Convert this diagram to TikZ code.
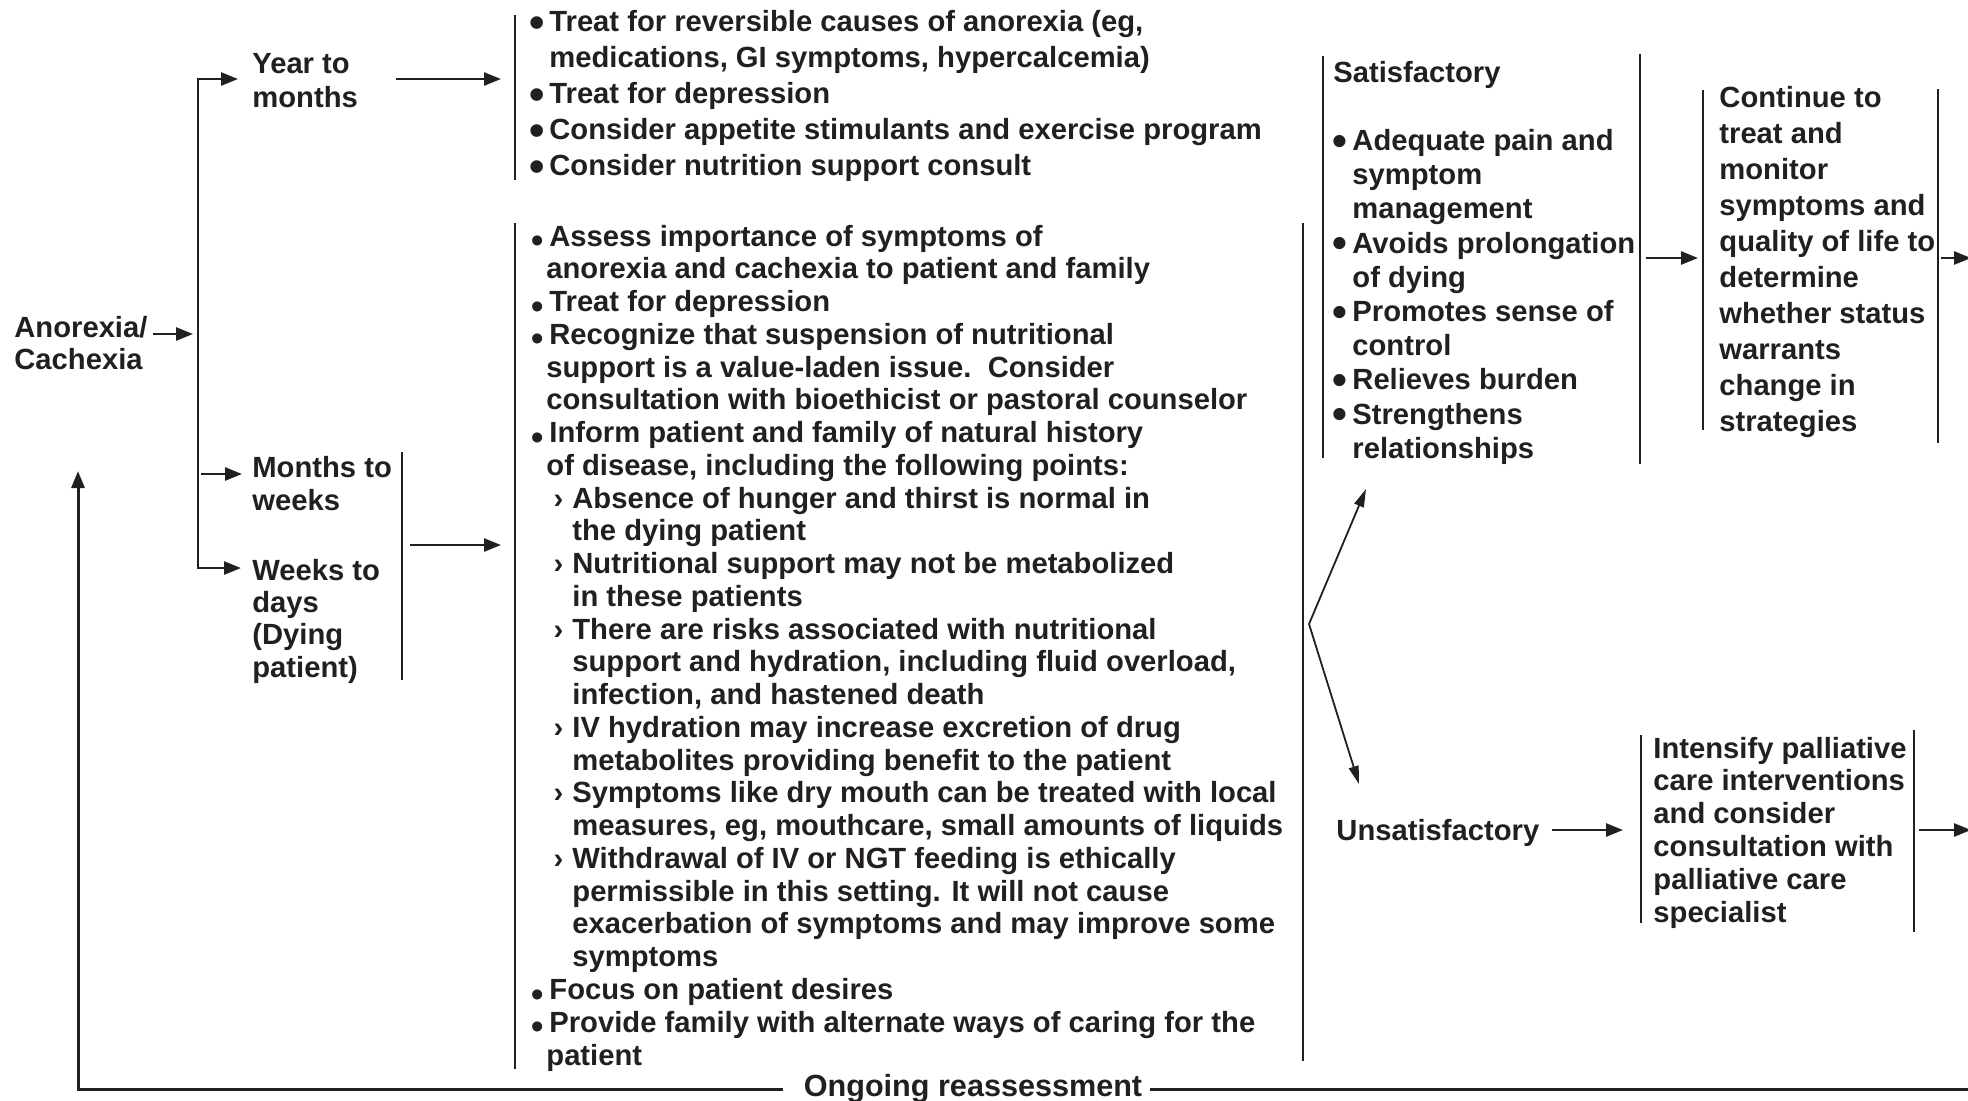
\documentclass[tikz,border=0pt]{standalone}
\usepackage{graphicx}
\usepackage{fontspec}
\setmainfont{Liberation Sans}
\usetikzlibrary{arrows.meta}
\definecolor{ink}{RGB}{35,31,32}

% font size / line spacing, always bold
\newcommand\fsz[2]{\fontsize{#1}{#2}\selectfont\bfseries}
% stacked left-aligned lines, baseline on the first line
\newcommand\rows[1]{\begin{tabular}[t]{@{}l@{}}#1\end{tabular}}
% bullets hanging to the left of the text start
\newcommand\bulA{\llap{\raisebox{-3pt}{\scalebox{1.5}{•}}\hspace{2.5pt}}}
\newcommand\bulB{\llap{\raisebox{-3.3pt}{\scalebox{1.2}{•}}\hspace{2.7pt}}}
\newcommand\bulC{\llap{\raisebox{-2.3pt}{\scalebox{1.45}{•}}\hspace{2.4pt}}}
\newcommand\cnt{\hspace*{-1.5pt}}
\newcommand\subb{\hspace*{11.5pt}\llap{›\hspace{4.5pt}}}
\newcommand\subc{\hspace*{11.5pt}}

\begin{document}
\begin{tikzpicture}[x=0.5pt,y=-0.5pt,color=ink,
  txt/.style={inner sep=0pt, anchor=base west},
  bar/.style={line width=1.35pt},
  arr/.style={line width=1.3pt, -{Triangle[length=8.5pt,width=6.5pt]}},
  arrs/.style={line width=1.3pt, {Triangle[length=8.5pt,width=6.5pt]}-{Triangle[length=8.5pt,width=6.5pt]}},
  diag/.style={line width=0.9pt, {Triangle[length=9pt,width=5pt]}-{Triangle[length=9pt,width=5pt]}}]
\useasboundingbox (0,0) rectangle (1968,1100);
\clip (0,0) rectangle (1968,1100);

% ---------- text blocks ----------
\node[txt, font={\fsz{14.6}{16}}] (anorexia) at (14,337) {\rows{Anorexia/\\Cachexia}};
\node[txt, font={\fsz{14.6}{17}}] (yearto) at (252,73) {\rows{Year to\\months}};
\node[txt, font={\fsz{14.6}{16.5}}] (monthsto) at (252,477) {\rows{Months to\\weeks}};
\node[txt, font={\fsz{14.6}{16.2}}] (weeksto) at (252,580) {\rows{Weeks to\\days\\(Dying\\patient)}};

\node[txt, font={\fsz{14.6}{18}}] (toplist) at (549,31) {\rows{%
\bulA Treat for reversible causes of anorexia (eg,\\
medications, GI symptoms, hypercalcemia)\\
\bulA Treat for depression\\
\bulA Consider appetite stimulants and exercise program\\
\bulA Consider nutrition support consult}};

\node[txt, font={\fsz{14.6}{16.38}}] (lowlist) at (549,246) {\rows{%
\bulB Assess importance of symptoms of\\
\cnt anorexia and cachexia to patient and family\\
\bulB Treat for depression\\
\bulB Recognize that suspension of nutritional\\
\cnt support is a value-laden issue.\ \ Consider\\
\cnt consultation with bioethicist or pastoral counselor\\
\bulB Inform patient and family of natural history\\
\cnt of disease, including the following points:\\
\subb Absence of hunger and thirst is normal in\\
\subc the dying patient\\
\subb Nutritional support may not be metabolized\\
\subc in these patients\\
\subb There are risks associated with nutritional\\
\subc support and hydration, including fluid overload,\\
\subc infection, and hastened death\\
\subb IV hydration may increase excretion of drug\\
\subc metabolites providing benefit to the patient\\
\subb Symptoms like dry mouth can be treated with local\\
\subc measures, eg, mouthcare, small amounts of liquids\\
\subb Withdrawal of IV or NGT feeding is ethically\\
\subc permissible in this setting. It will not cause\\
\subc exacerbation of symptoms and may improve some\\
\subc symptoms\\
\bulB Focus on patient desires\\
\bulB Provide family with alternate ways of caring for the\\
\cnt patient}};

\node[txt, font={\fsz{14.6}{17.1}}] (satis) at (1352,82) {\rows{%
\hspace*{-9.5pt}Satisfactory\\
\\
\bulC Adequate pain and\\
symptom\\
management\\
\bulC Avoids prolongation\\
of dying\\
\bulC Promotes sense of\\
control\\
\bulC Relieves burden\\
\bulC Strengthens\\
relationships}};

\node[txt, font={\fsz{14.6}{18}}] (contin) at (1719,107) {\rows{%
Continue to\\treat and\\monitor\\symptoms and\\quality of life to\\determine\\whether status\\warrants\\change in\\strategies}};

\node[txt, font={\fsz{14.6}{17}}] (unsat) at (1336,840) {Unsatisfactory};

\node[txt, font={\fsz{14.6}{16.4}}] (intens) at (1653,758) {\rows{%
Intensify palliative\\care interventions\\and consider\\consultation with\\palliative care\\specialist}};

\node[inner sep=0pt, font={\fsz{15.3}{18}}] (ongoing) at (973,1089) {Ongoing reassessment};

% ---------- bracket bars ----------
\draw[bar] (515,15) -- (515,180);
\draw[bar] (515,223) -- (515,1069);
\draw[bar] (402,452) -- (402,680);
\draw[bar] (1303,223) -- (1303,1061);
\draw[bar] (1323,56) -- (1323,458);
\draw[bar] (1640,54) -- (1640,464);
\draw[bar] (1703,90) -- (1703,430);
\draw[bar] (1938,89) -- (1938,443);
\draw[bar] (1641,735) -- (1641,923);
\draw[bar] (1914,730) -- (1914,932);

% ---------- connector end points ----------
\coordinate (anoOut) at (153,334);
\coordinate (brIn) at (193,334);
\coordinate (yTip) at (238,79);
\coordinate (brBot) at (198,568);
\coordinate (wTip) at (241,568);
\coordinate (mStart) at (201,474);
\coordinate (mTip) at (242,474);
\coordinate (ytOut) at (396,79);
\coordinate (tlIn) at (501,79);
\coordinate (mwOut) at (410,545);
\coordinate (llIn) at (501,545);
\coordinate (fork) at (1309,624);
\coordinate (satTip) at (1366,489);
\coordinate (unsTip) at (1359,784);
\coordinate (satOut) at (1646,258);
\coordinate (ctIn) at (1698,258);
\coordinate (ctOut) at (1941,258);
\coordinate (ctEnd) at (1971,258);
\coordinate (unsOut) at (1552,830);
\coordinate (inIn) at (1623,830);
\coordinate (inOut) at (1919,830);
\coordinate (inEnd) at (1971,830);
\coordinate (edgeR) at (1968,1089);
\coordinate (upTip) at (78,471);

% ---------- connectors ----------
\draw[arr] (anoOut) -- (brIn);
\draw[arrs] (yTip) -| (brBot) -- (wTip);
\draw[arr] (mStart) -- (mTip);
\draw[arr] (ytOut) -- (tlIn);
\draw[arr] (mwOut) -- (llIn);
\draw[diag] (satTip) -- (fork) -- (unsTip);
\draw[arr] (satOut) -- (ctIn);
\draw[arr] (ctOut) -- (ctEnd);
\draw[arr] (unsOut) -- (inIn);
\draw[arr] (inOut) -- (inEnd);
\draw[line width=1.5pt] (edgeR) -- ([xshift=3.5pt]ongoing.east);
\draw[arr, line width=1.5pt] ([xshift=-10pt]ongoing.west) -| (upTip);
\end{tikzpicture}
\end{document}
